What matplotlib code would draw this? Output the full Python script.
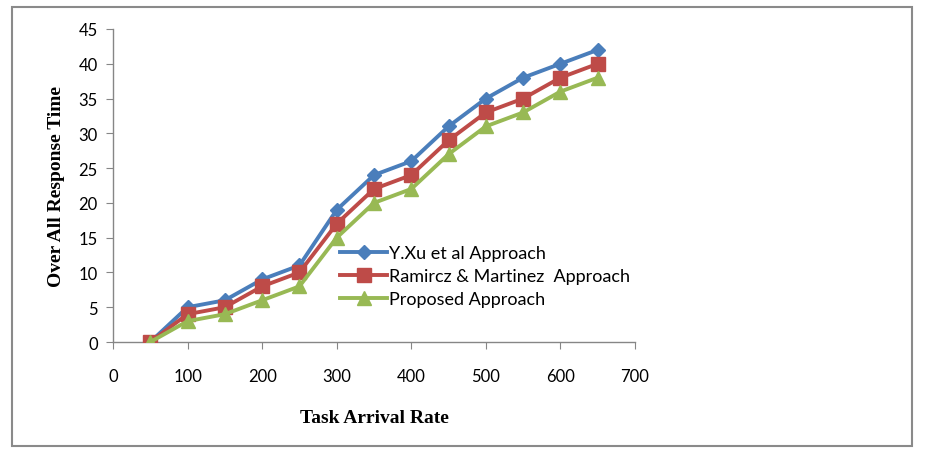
import matplotlib
matplotlib.use("Agg")
import matplotlib.pyplot as plt
from matplotlib.patches import Rectangle

task_rate = [50, 100, 150, 200, 250, 300, 350, 400, 450, 500, 550, 600, 650]
yxu = [0, 5, 6, 9, 11, 19, 24, 26, 31, 35, 38, 40, 42]
ramirez = [0, 4, 5, 8, 10, 17, 22, 24, 29, 33, 35, 38, 40]
proposed = [0, 3, 4, 6, 8, 15, 20, 22, 27, 31, 33, 36, 38]
series_names = ["Y.Xu et al Approach", "Ramircz & Martinez  Approach", "Proposed Approach"]
x_ticks = [0, 100, 200, 300, 400, 500, 600, 700]
y_ticks = [0, 5, 10, 15, 20, 25, 30, 35, 40, 45]

fig = plt.figure(figsize=(9.49, 4.60), dpi=100)
ax = fig.add_axes([113/949, 1-343/460, (635-113)/949, (343-30)/460])

fig.patches.append(Rectangle((12/949, 1-447/460), (912-12)/949, (447-8)/460,
                             transform=fig.transFigure, fill=False,
                             edgecolor="#8a8a8a", linewidth=1.5))

ax.plot(task_rate, yxu, color="#4A7EBB", lw=2.8, marker="D", ms=7,
        label=series_names[0], zorder=3)
ax.plot(task_rate, ramirez, color="#BE4B48", lw=2.8, marker="s", ms=10,
        label=series_names[1], zorder=3)
ax.plot(task_rate, proposed, color="#98B954", lw=2.8, marker="^", ms=10,
        label=series_names[2], zorder=3)

ax.set_xlim(0, 700)
ax.set_ylim(0, 45)
ax.set_xticks(x_ticks)
ax.set_yticks(y_ticks)
for s in ["top", "right"]:
    ax.spines[s].set_visible(False)
for s in ["left", "bottom"]:
    ax.spines[s].set_color("#868686")
    ax.spines[s].set_linewidth(1.0)
ax.tick_params(axis="both", colors="#868686", labelcolor="black",
               labelsize=12, length=5, direction="out")
ax.tick_params(axis="x", pad=14)
ax.tick_params(axis="y", pad=6)
for lab in ax.get_xticklabels() + ax.get_yticklabels():
    lab.set_fontfamily("Lato")

ax.set_xlabel("Task Arrival Rate", fontfamily="Liberation Serif",
              fontweight="bold", fontsize=14, labelpad=18)
ax.set_ylabel("Over All Response Time", fontfamily="Liberation Serif",
              fontweight="bold", fontsize=14, labelpad=10)

leg = ax.legend(loc="upper left", bbox_to_anchor=(333/949, 1-239/460),
                bbox_transform=fig.transFigure, frameon=False,
                prop={"family": "Lato", "size": 13}, handlelength=2.6,
                handletextpad=0.1, labelspacing=0.38, borderaxespad=0)

fig.savefig("out.png", dpi=100)
